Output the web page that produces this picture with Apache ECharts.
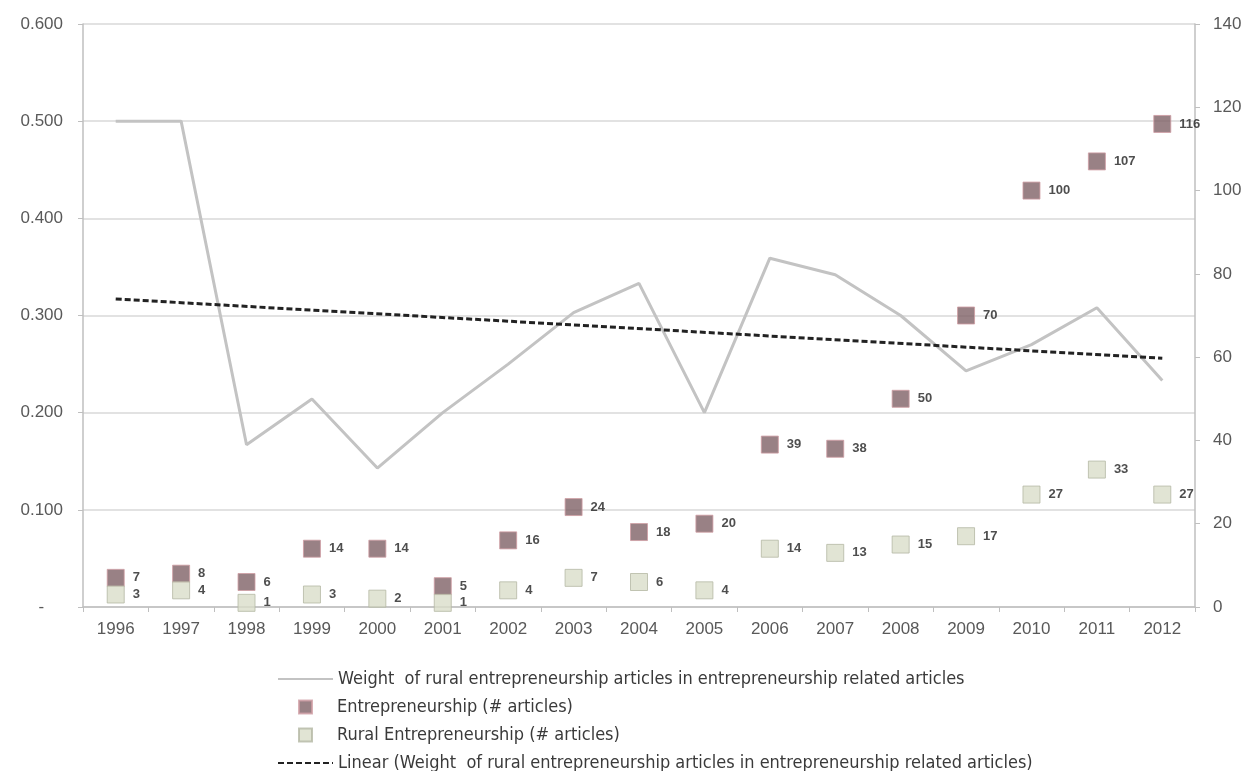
<!DOCTYPE html>
<html>
<head>
<meta charset="utf-8">
<script src="https://cdn.jsdelivr.net/npm/echarts@6/dist/echarts.min.js"></script>
<style>
    html, body { margin: 0; padding: 0; background: #fff; }
    #chart { width: 1249px; height: 771px; }
</style>
</head>
<body>
<div id="chart"></div>
<script>
// years on the x axis
var years = ["1996", "1997", "1998", "1999", "2000", "2001", "2002", "2003", "2004",
    "2005", "2006", "2007", "2008", "2009", "2010", "2011", "2012"];
// weight of rural articles (left axis)
var weight = [0.500, 0.500, 0.167, 0.214, 0.143, 0.200, 0.250, 0.303, 0.333,
    0.200, 0.359, 0.342, 0.300, 0.243, 0.270, 0.308, 0.233];
// number of articles (right axis)
var entre = [7, 8, 6, 14, 14, 5, 16, 24, 18, 20, 39, 38, 50, 70, 100, 107, 116];
var rural = [3, 4, 1, 3, 2, 1, 4, 7, 6, 4, 14, 13, 15, 17, 27, 33, 27];
// linear trend, read at both ends
var trend = [["1996", 0.317], ["2012", 0.256]];

var names = [
    "Weight  of rural entrepreneurship articles in entrepreneurship related articles",
    "Entrepreneurship (# articles)",
    "Rural Entrepreneurship (# articles)",
    "Linear (Weight  of rural entrepreneurship articles in entrepreneurship related articles)"
];

initChart("chart");

function initChart(id) {
    var chart = echarts.init(document.getElementById(id));
    var narrow = "'Liberation Sans Narrow', 'DejaVu Sans Condensed', sans-serif";
    var axisFont = "'Liberation Sans', sans-serif";
    var legendText = { fontFamily: narrow, fontSize: 18, color: "#3a3a3a", lineHeight: 20 };
    var dataLabel = {
        show: true,
        position: "right",
        distance: 8,
        fontFamily: axisFont,
        fontWeight: "bold",
        fontSize: 13,
        color: "#222"
    };

    var option = {
        animation: false,
        grid: { left: 83, right: 54, top: 24, bottom: 164 },
        legend: [
            {
                data: [names[0]],
                left: 277, top: 669, padding: 0,
                itemWidth: 55, itemHeight: 14,
                itemStyle: { opacity: 0 },
                textStyle: legendText
            },
            {
                data: [names[1], names[2]],
                orient: "vertical",
                left: 298, top: 697, padding: 0,
                itemWidth: 13, itemHeight: 13, itemGap: 8,
                textStyle: Object.assign({}, legendText, { padding: [0, 0, 0, 20] })
            },
            {
                data: [names[3]],
                left: 277, top: 753, padding: 0,
                itemWidth: 55, itemHeight: 14,
                itemStyle: { opacity: 0 },
                textStyle: legendText
            }
        ],
        xAxis: {
            type: "category",
            data: years,
            axisLine: { lineStyle: { color: "#bfbfbf", width: 1.5 } },
            axisTick: { show: true, length: 5, lineStyle: { color: "#bfbfbf" } },
            axisLabel: { fontFamily: axisFont, fontSize: 17, color: "#595959", margin: 14 }
        },
        yAxis: [
            {
                type: "value",
                min: 0, max: 0.6, interval: 0.1,
                axisLine: { show: true, lineStyle: { color: "#bfbfbf", width: 1.5 } },
                axisTick: { show: true, length: 5, lineStyle: { color: "#bfbfbf" } },
                splitLine: { lineStyle: { color: "#d9d9d9", width: 1.5 } },
                axisLabel: {
                    fontFamily: axisFont, fontSize: 17, color: "#595959", margin: 20,
                    formatter: function (v) { return v === 0 ? "-    " : v.toFixed(3); }
                }
            },
            {
                type: "value",
                min: 0, max: 140, interval: 20,
                axisLine: { show: true, lineStyle: { color: "#bfbfbf", width: 1.5 } },
                axisTick: { show: true, length: 5, lineStyle: { color: "#bfbfbf" } },
                splitLine: { show: false },
                axisLabel: { fontFamily: axisFont, fontSize: 17, color: "#595959", margin: 18 }
            }
        ],
        series: [
            {
                name: names[0],
                type: "line",
                yAxisIndex: 0,
                data: weight,
                symbol: "none",
                lineStyle: { color: "#c3c3c3", width: 3 },
                itemStyle: { color: "#c3c3c3" },
                z: 2
            },
            {
                name: names[1],
                type: "scatter",
                yAxisIndex: 1,
                data: entre,
                symbol: "rect",
                symbolSize: 17,
                itemStyle: { color: "#7f6267", borderColor: "#cf9ea4", borderWidth: 1 },
                label: dataLabel,
                z: 3
            },
            {
                name: names[2],
                type: "scatter",
                yAxisIndex: 1,
                data: rural,
                symbol: "rect",
                symbolSize: 17,
                itemStyle: { color: "#d9ddc9", borderColor: "#b4b8a4", borderWidth: 1 },
                label: dataLabel,
                z: 4
            },
            {
                name: names[3],
                type: "line",
                yAxisIndex: 0,
                data: trend,
                symbol: "none",
                lineStyle: { color: "#222", width: 3, type: [6, 3] },
                itemStyle: { color: "#222" },
                z: 5
            }
        ]
    };
    chart.setOption(option);
}
</script>
</body>
</html>
